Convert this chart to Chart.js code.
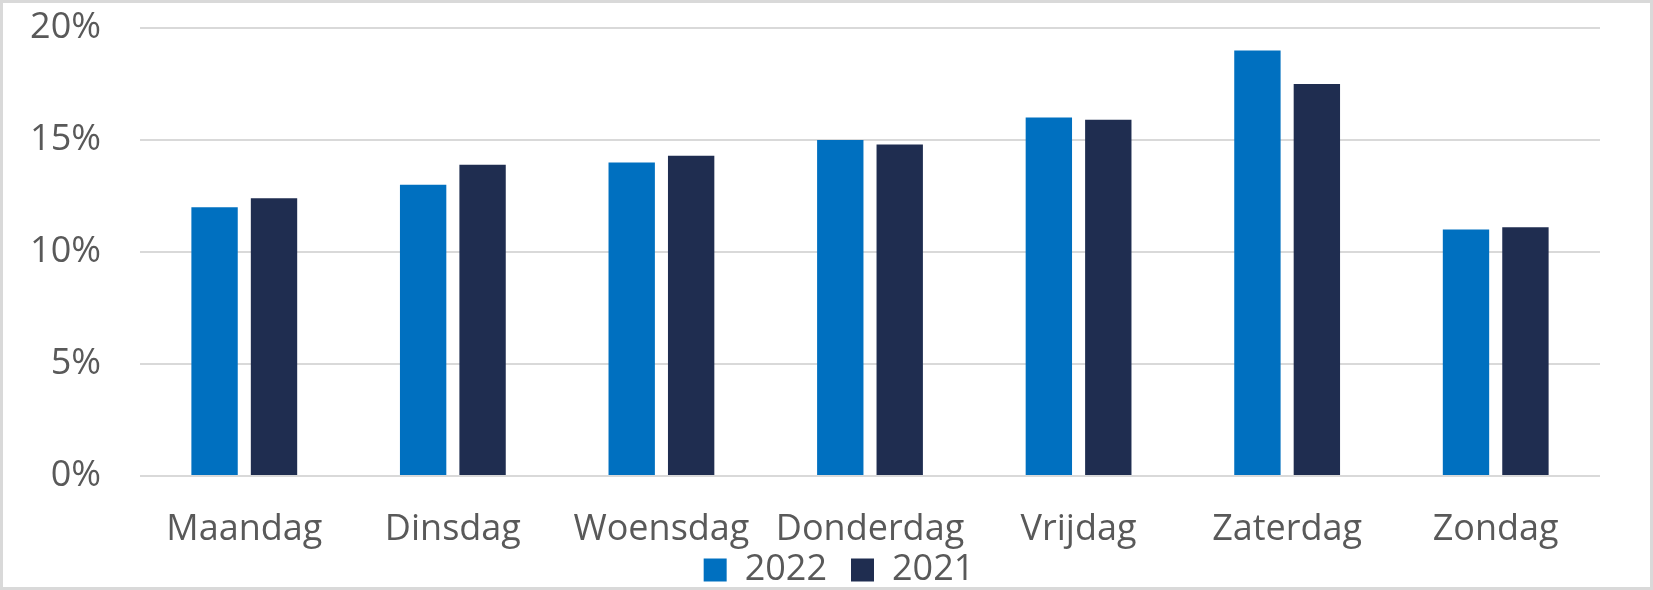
<!DOCTYPE html>
<html>
<head>
<meta charset="utf-8">
<script src="https://cdn.jsdelivr.net/npm/chart.js@4"></script>
<style>
    html, body { margin: 0; padding: 0; background: #fff; }
    #wrap {
        width: 1653px;
        height: 590px;
        box-sizing: border-box;
        border: 3px solid #d9d9d9;
        position: relative;
    }
    canvas { display: block; }
</style>
</head>
<body>
<div id="wrap"><canvas id="barChart" width="1647" height="584"></canvas></div>
<script>
'use strict';

// 曜日（カテゴリ）
const days = ['Maandag', 'Dinsdag', 'Woensdag', 'Donderdag', 'Vrijdag', 'Zaterdag', 'Zondag'];
// 2022年の値（%）
const values2022 = [12.0, 13.0, 14.0, 15.0, 16.0, 19.0, 11.0];
// 2021年の値（%）
const values2021 = [12.4, 13.9, 14.3, 14.8, 15.9, 17.5, 11.1];
// Y軸の目盛り
const yTicks = [0, 5, 10, 15, 20];

const TEXT_COLOR = '#595959';
const GRID_COLOR = '#d9d9d9';
const FONT = { family: '"Open Sans", sans-serif', size: 36 };

Chart.defaults.color = TEXT_COLOR;
Chart.defaults.font = FONT;

const barCtx = document.getElementById('barChart');

new Chart(barCtx, {
    type: 'bar',
    data: {
        labels: days,
        datasets: [
            createBarData('2022', values2022, '#0070c0'),
            createBarData('2021', values2021, '#1f2d50')
        ]
    },
    options: {
        responsive: false,
        animation: false,
        layout: {
            padding: { left: 25, right: 0, top: 25, bottom: -11 }
        },
        plugins: {
            legend: {
                position: 'bottom',
                labels: {
                    boxWidth: 23,
                    boxHeight: 23,
                    padding: 24,
                    color: TEXT_COLOR,
                    font: FONT
                }
            },
            tooltip: { enabled: false }
        },
        scales: {
            x: {
                grid: { display: false, drawTicks: false },
                border: { display: false },
                ticks: { padding: 32, color: TEXT_COLOR, font: FONT },
                afterFit: axis => {
                    // 軸の高さを詰めてもラベルが切れないようにクリップを無効化
                    axis._computeLabelArea = () => undefined;
                    axis.height = 52;
                    axis.paddingLeft = 0;
                    axis.paddingRight = 50;
                }
            },
            y: {
                min: 0,
                max: 20,
                afterBuildTicks: axis => {
                    axis.ticks = yTicks.map(v => ({ value: v }));
                },
                grid: { color: GRID_COLOR, lineWidth: 2, drawTicks: false },
                border: { display: false },
                ticks: {
                    padding: 39,
                    color: TEXT_COLOR,
                    font: FONT,
                    callback: value => value + '%'
                },
                afterFit: axis => {
                    axis.width = 112;
                    axis.paddingTop = 0;
                    axis.paddingBottom = 0;
                }
            }
        }
    }
});

/**
 * 棒グラフのデータセット生成
 */
function createBarData(label, data, color) {
    return {
        label: label,
        data: data,
        backgroundColor: color,
        borderWidth: 0,
        categoryPercentage: 0.57,
        barPercentage: 0.78
    };
}
</script>
</body>
</html>
